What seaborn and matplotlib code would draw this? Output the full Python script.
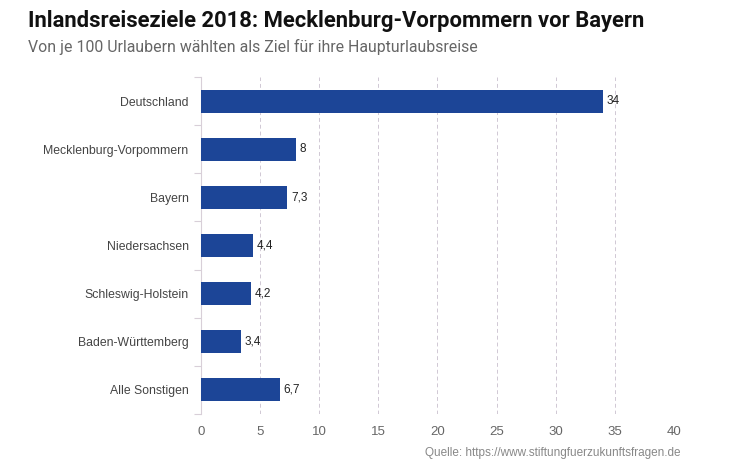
import numpy as np
import pandas as pd
import matplotlib.pyplot as plt
import seaborn as sns

regions = ["Deutschland", "Mecklenburg-Vorpommern", "Bayern", "Niedersachsen",
           "Schleswig-Holstein", "Baden-Württemberg", "Alle Sonstigen"]
values = [34, 8, 7.3, 4.4, 4.2, 3.4, 6.7]
value_labels = ["34", "8", "7,3", "4,4", "4,2", "3,4", "6,7"]
x_ticks = [0, 5, 10, 15, 20, 25, 30, 35, 40]

df = pd.DataFrame({"Region": regions, "Wert": values})

sns.set_style("white")
plt.rcParams['font.family'] = ['Liberation Sans', 'DejaVu Sans']

fig = plt.figure(figsize=(7.34, 4.65), dpi=100)
ax = fig.add_axes([0.274, 0.110, 0.644, 0.724])

sns.barplot(data=df, x="Wert", y="Region", color="#1c4597", width=0.48,
            saturation=1, linewidth=0, ax=ax, zorder=3)

for i, (v, lab) in enumerate(zip(values, value_labels)):
    ax.text(v + 0.3, i, lab, va="center", ha="left", fontsize=8.5,
            color="#222222", zorder=4)

ax.set_xlim(0, 40)
ax.set_ylim(6.5, -0.5)
ax.set_xticks(x_ticks)
ax.set_xticklabels([str(t) for t in x_ticks], color="#666666", fontsize=9.5)
ax.tick_params(axis="x", length=0, pad=9)
ax.tick_params(axis="y", length=0, pad=9, labelsize=8.8, labelcolor="#444444")
ax.set_xlabel("")
ax.set_ylabel("")

# boundary ticks on the left axis
ax.set_yticks(np.arange(-0.5, 7, 1), minor=True)
ax.tick_params(axis="y", which="minor", left=True, length=5, color="#d8cfd8", width=0.8)

ax.grid(axis="x", linestyle=(0, (4, 3)), color="#d0c8d4", linewidth=0.7, zorder=0)
ax.grid(axis="y", visible=False)
for s in ["top", "right", "bottom"]:
    ax.spines[s].set_visible(False)
ax.spines["left"].set_color("#d8cfd8")
ax.spines["left"].set_linewidth(0.8)

fig.text(0.038, 0.955, "Inlandsreiseziele 2018: Mecklenburg-Vorpommern vor Bayern",
         fontsize=15.8, fontweight="bold", family="Roboto", color="#111111", va="center")
fig.text(0.038, 0.898, "Von je 100 Urlaubern wählten als Ziel für ihre Haupturlaubsreise",
         fontsize=11.4, color="#666666", va="center", family="Roboto")
fig.text(0.927, 0.026, "Quelle: https://www.stiftungfuerzukunftsfragen.de",
         fontsize=8.5, color="#888888", ha="right", va="center")

fig.savefig("out.png", dpi=100)
